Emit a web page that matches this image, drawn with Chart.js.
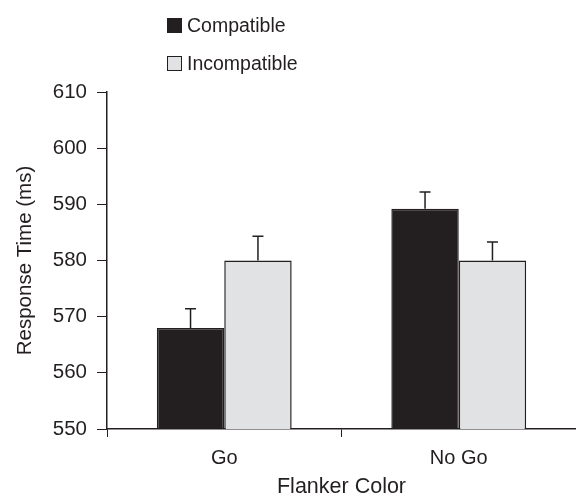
<!DOCTYPE html>
<html>
<head>
<meta charset="utf-8">
<script src="https://cdn.jsdelivr.net/npm/chart.js@4.4.1/dist/chart.umd.min.js"></script>
<style>
  html,body{margin:0;padding:0;background:#fff;}
  #wrap{position:relative;width:576px;height:498px;}
  #legend{position:absolute;left:167px;top:6px;font-family:"Liberation Sans",sans-serif;font-size:19.5px;color:#231f20;}
  .item{height:38px;line-height:32px;display:flex;align-items:center;}
  .box{width:15px;height:15px;box-sizing:border-box;border:1px solid #231f20;margin-right:5px;}
</style>
</head>
<body>
<div id="wrap">
  <canvas id="myChart" width="576" height="498"></canvas>
  <div id="legend"></div>
</div>
<script>
var categories=["Go","No Go"];
var seriesNames=["Compatible","Incompatible"];
var compatible=[568.0,589.2];
var incompatible=[580.0,580.0];
var compatibleErr=[571.4,592.2];   // top of error bar
var incompatibleErr=[584.3,583.3];
var yTicks=[550,560,570,580,590,600,610];

var dark='#231f20';
var light='#e1e2e4';
var fontFam='"Liberation Sans",sans-serif';

// legend as html, stacked like the original
var colors=[dark,light];
var leg=document.getElementById('legend');
for(i=0;i<seriesNames.length;i++){
  leg.innerHTML+='<div class="item"><span class="box" style="background:'+colors[i]+'"></span>'+seriesNames[i]+'</div>';
}

var errorBars={
  id:'errorBars',
  afterDatasetsDraw:function(chart){
    var ctx=chart.ctx;
    var yScale=chart.scales.y;
    var errs=[compatibleErr,incompatibleErr];
    ctx.save();
    ctx.strokeStyle=dark;
    ctx.lineWidth=1.5;
    chart.data.datasets.forEach(function(ds,d){
      var meta=chart.getDatasetMeta(d);
      meta.data.forEach(function(bar,i){
        var top=yScale.getPixelForValue(errs[d][i]);
        ctx.beginPath();
        ctx.moveTo(bar.x,bar.y);
        ctx.lineTo(bar.x,top);
        ctx.moveTo(bar.x-5.5,top);
        ctx.lineTo(bar.x+5.5,top);
        ctx.stroke();
      });
    });
    ctx.restore();
  }
};

var ctx=document.getElementById('myChart');
var myChart=new Chart(ctx,{
  type:'bar',
  data:{
    labels:categories,
    datasets:[{
      label:seriesNames[0],
      data:compatible,
      backgroundColor:dark,
      borderColor:dark,
      borderWidth:1.5
    },{
      label:seriesNames[1],
      data:incompatible,
      backgroundColor:light,
      borderColor:dark,
      borderWidth:1.5
    }]
  },
  options:{
    responsive:false,
    animation:false,
    categoryPercentage:0.575,
    barPercentage:1,
    layout:{padding:{top:92,left:0,right:0,bottom:0}},
    plugins:{
      legend:{display:false},
      tooltip:{enabled:false}
    },
    scales:{
      x:{
        grid:{display:true,drawOnChartArea:false,drawTicks:true,tickLength:8,color:dark,offset:true},
        border:{display:true,color:dark,width:1.5},
        ticks:{color:dark,font:{family:fontFam,size:20},padding:9},
        title:{display:true,text:'Flanker Color',color:dark,font:{family:fontFam,size:21.5,lineHeight:1},padding:{top:0,bottom:0}},
        afterFit:function(scale){scale.height=69;}
      },
      y:{
        min:550,max:610,
        afterBuildTicks:function(scale){scale.ticks=yTicks.map(function(v){return {value:v};});},
        grid:{display:true,drawOnChartArea:false,drawTicks:true,tickLength:10,color:dark},
        border:{display:true,color:dark,width:1.5},
        ticks:{color:dark,font:{family:fontFam,size:20.5},padding:10},
        title:{display:true,text:'Response Time (ms)',color:dark,font:{family:fontFam,size:20.5,lineHeight:1.2},padding:{top:13,bottom:0}},
        afterFit:function(scale){scale.width=107;}
      }
    }
  },
  plugins:[errorBars]
});
</script>
</body>
</html>
